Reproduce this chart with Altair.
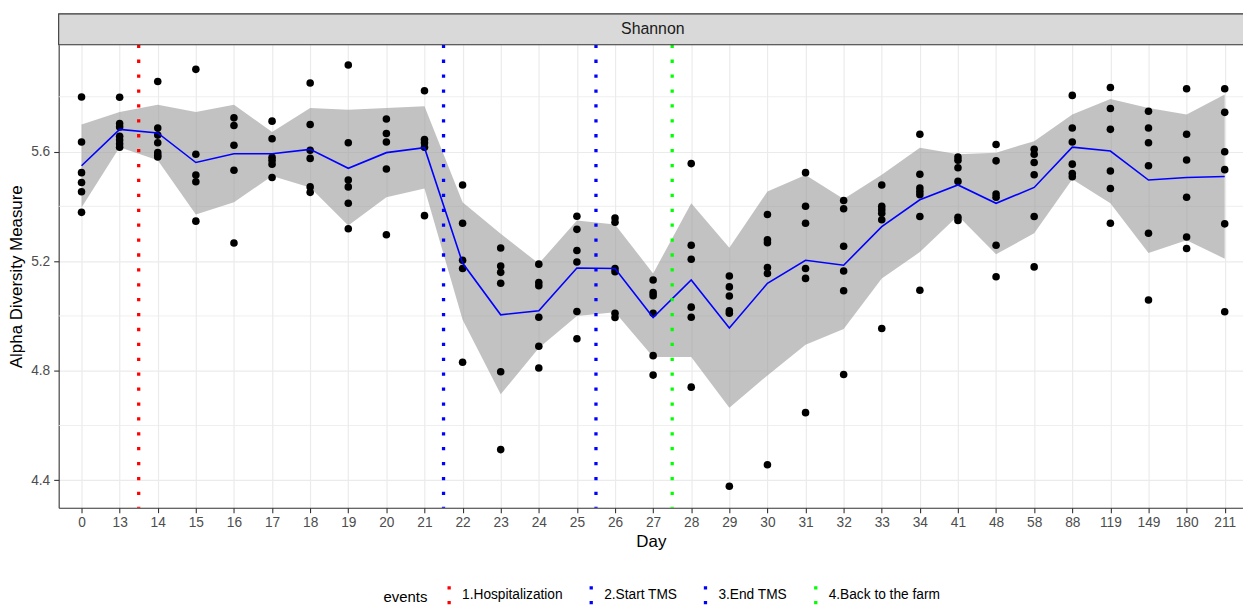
import json
import altair as alt
import pandas as pd

# ---------------- data ----------------
days = [0, 13, 14, 15, 16, 17, 18, 19, 20, 21, 22, 23, 24, 25, 26, 27, 28, 29, 30,
        31, 32, 33, 34, 41, 48, 58, 88, 119, 149, 180, 211]

values = [
    [5.799, 5.635, 5.523, 5.487, 5.453, 5.378],          # 0
    [5.798, 5.702, 5.690, 5.656, 5.642, 5.628, 5.616],   # 13
    [5.856, 5.686, 5.660, 5.632, 5.596, 5.586, 5.580],   # 14
    [5.900, 5.590, 5.514, 5.490, 5.346],                 # 15
    [5.723, 5.695, 5.623, 5.532, 5.266],                 # 16
    [5.711, 5.647, 5.579, 5.568, 5.554, 5.505],          # 17
    [5.850, 5.699, 5.605, 5.575, 5.471, 5.451],          # 18
    [5.916, 5.632, 5.496, 5.471, 5.411, 5.318],          # 19
    [5.719, 5.666, 5.635, 5.536, 5.296],                 # 20
    [5.822, 5.644, 5.632, 5.616, 5.366],                 # 21
    [5.478, 5.338, 5.203, 5.173, 4.831],                 # 22
    [5.248, 5.182, 5.159, 5.119, 4.796, 4.512],          # 23
    [5.189, 5.122, 5.110, 4.995, 4.889, 4.810],          # 24
    [5.364, 5.316, 5.239, 5.197, 5.016, 4.917],          # 25
    [5.357, 5.342, 5.173, 5.161, 5.010, 4.994],          # 26
    [5.131, 5.085, 5.074, 5.010, 4.855, 4.784],          # 27
    [5.556, 5.258, 5.207, 5.032, 4.995, 4.740],          # 28
    [5.146, 5.106, 5.073, 5.019, 5.010, 4.378],          # 29
    [5.370, 5.278, 5.267, 5.177, 5.155, 4.457],          # 30
    [5.523, 5.400, 5.338, 5.173, 5.137, 4.647],          # 31
    [5.421, 5.391, 5.254, 5.164, 5.092, 4.786],          # 32
    [5.478, 5.400, 5.388, 5.375, 5.351, 4.954],          # 33
    [5.663, 5.517, 5.467, 5.454, 5.442, 5.363, 5.094],   # 34
    [5.580, 5.568, 5.541, 5.491, 5.360, 5.348],          # 41
    [5.626, 5.566, 5.445, 5.433, 5.258, 5.143],          # 48
    [5.608, 5.590, 5.560, 5.515, 5.363, 5.179],          # 58
    [5.805, 5.686, 5.635, 5.554, 5.520, 5.508],          # 88
    [5.834, 5.757, 5.681, 5.529, 5.465, 5.338],          # 119
    [5.747, 5.686, 5.632, 5.548, 5.302, 5.058],          # 149
    [5.829, 5.663, 5.569, 5.433, 5.288, 5.246],          # 180
    [5.829, 5.743, 5.599, 5.534, 5.336, 5.015],          # 211
]

mean_line = [5.548, 5.681, 5.668, 5.560, 5.592, 5.592, 5.608, 5.539, 5.596, 5.614,
             5.193, 5.004, 5.019, 5.175, 5.173, 4.994, 5.131, 4.956, 5.119, 5.203,
             5.185, 5.326, 5.424, 5.478, 5.411, 5.469, 5.616, 5.602, 5.496, 5.505, 5.509]

ribbon_high = [5.699, 5.744, 5.771, 5.744, 5.771, 5.671, 5.759, 5.753, 5.759, 5.765,
               5.415, 5.300, 5.191, 5.348, 5.334, 5.155, 5.411, 5.249, 5.454, 5.514,
               5.427, 5.515, 5.614, 5.590, 5.596, 5.638, 5.735, 5.792, 5.759, 5.735, 5.808]

ribbon_low = [5.396, 5.616, 5.568, 5.370, 5.415, 5.511, 5.469, 5.330, 5.433, 5.465,
              4.986, 4.714, 4.883, 5.000, 5.013, 4.850, 4.850, 4.665, 4.783, 4.895,
              4.952, 5.137, 5.233, 5.366, 5.225, 5.302, 5.499, 5.411, 5.230, 5.276, 5.209]

event_names = ["1.Hospitalization", "2.Start TMS", "3.End TMS", "4.Back to the farm"]
event_pos = [1.5, 9.5, 13.5, 15.5]          # between day categories
event_colors = ["#FF0000", "#0000FF", "#0000FF", "#00FF00"]

y_ticks = [4.4, 4.8, 5.2, 5.6]
y_minor = [4.6, 5.0, 5.4, 5.8]
strip_label = ["Shannon"]

# ---------------- tables ----------------
pts = pd.DataFrame([{"idx": i, "day": d, "value": v}
                    for i, (d, vs) in enumerate(zip(days, values)) for v in vs])
summ = pd.DataFrame({"idx": list(range(len(days))), "mean": mean_line,
                     "lo": ribbon_low, "hi": ribbon_high})
ev = pd.DataFrame({"pos": event_pos, "event": event_names})
minor = pd.DataFrame({"y": y_minor})
strip = pd.DataFrame({"label": strip_label})

W, H = 1192, 466
FONT = "Liberation Sans"

xscale = alt.Scale(domain=[-0.6, 30.48], nice=False, zero=False)
yscale = alt.Scale(domain=[4.30, 5.99], nice=False, zero=False)

label_expr = json.dumps([str(d) for d in days]) + "[datum.value]"

xaxis = alt.Axis(values=list(range(len(days))), labelExpr=label_expr, title="Day",
                 grid=True, gridColor="#EBEBEB", gridWidth=1.2,
                 domain=True, domainColor="#333333", domainWidth=1.1,
                 ticks=True, tickColor="#333333", tickSize=5, tickWidth=1.1,
                 labelFont=FONT, labelFontSize=13.8, labelColor="#4D4D4D", labelPadding=3,
                 labelFlush=False, labelOverlap=False,
                 titleFont=FONT, titleFontSize=17, titleFontWeight="normal",
                 titleColor="black", titlePadding=4)
yaxis = alt.Axis(values=y_ticks, format=".1f", title="Alpha Diversity Measure",
                 grid=True, gridColor="#EBEBEB", gridWidth=1.2,
                 domain=True, domainColor="#333333", domainWidth=1.1,
                 ticks=True, tickColor="#333333", tickSize=5, tickWidth=1.1,
                 labelFont=FONT, labelFontSize=13.8, labelColor="#4D4D4D", labelPadding=4,
                 labelFlush=False, labelOverlap=False,
                 titleFont=FONT, titleFontSize=17, titleFontWeight="normal",
                 titleColor="black", titlePadding=5)

minor_grid = alt.Chart(minor).mark_rule(color="#EBEBEB", strokeWidth=0.8).encode(
    y=alt.Y("y:Q", scale=yscale, axis=yaxis))

ribbon = alt.Chart(summ).mark_area(color="#999999", opacity=0.6).encode(
    x=alt.X("idx:Q", scale=xscale, axis=xaxis),
    y=alt.Y("lo:Q", scale=yscale, axis=yaxis),
    y2="hi:Q")

points = alt.Chart(pts).mark_circle(color="black", size=58, opacity=1).encode(
    x=alt.X("idx:Q", scale=xscale, axis=xaxis),
    y=alt.Y("value:Q", scale=yscale, axis=yaxis))

line = alt.Chart(summ).mark_line(color="#0000FF", strokeWidth=1.6).encode(
    x=alt.X("idx:Q", scale=xscale, axis=xaxis),
    y=alt.Y("mean:Q", scale=yscale, axis=yaxis))

legend = alt.Legend(title="events", orient="none", legendX=327, legendY=543,
                    direction="horizontal", titleOrient="left",
                    symbolType="M0,-1L0,1", symbolSize=335, symbolStrokeWidth=3.3,
                    symbolDash=[3.3, 11.7], symbolFillColor="transparent",
                    labelFont=FONT, labelFontSize=13.8, labelColor="black", labelOffset=2,
                    titleFont=FONT, titleFontSize=15, titleFontWeight="normal",
                    titleColor="black", titlePadding=10, titleBaseline="middle",
                    columnPadding=17, padding=0)

rules = alt.Chart(ev).mark_rule(strokeWidth=3.3, strokeDash=[3.3, 11.7]).encode(
    x=alt.X("pos:Q", scale=xscale, axis=xaxis),
    color=alt.Color("event:N", scale=alt.Scale(domain=event_names, range=event_colors),
                    legend=legend))

strip_box = alt.Chart(strip).mark_rect(fill="#D9D9D9", stroke="#333333", strokeWidth=1.1).encode(
    x=alt.value(0), x2=alt.value(W + 10), y=alt.value(-31), y2=alt.value(0))

strip_text = alt.Chart(strip).mark_text(font=FONT, fontSize=16, color="#1A1A1A",
                                        align="center", baseline="middle").encode(
    x=alt.value(598), y=alt.value(-15.5), text="label:N")

chart = alt.layer(minor_grid, ribbon, points, line, rules, strip_box, strip_text).properties(
    width=W, height=H,
    autosize=alt.AutoSizeParams(type="none"),
    padding={"left": 51, "top": 35, "right": 0, "bottom": 97},
    background="white",
).configure_view(stroke=None).configure_axis(labelOverlap=False)

chart.save("out.html", embed_options={"renderer": "svg", "actions": False})
